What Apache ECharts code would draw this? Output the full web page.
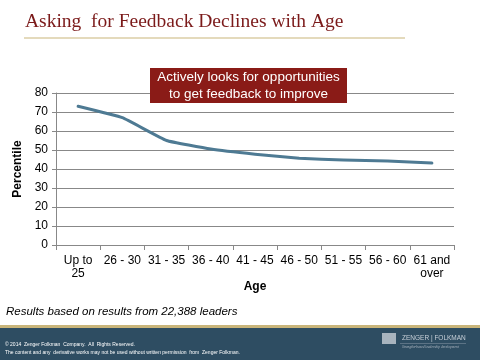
<!DOCTYPE html>
<html><head><meta charset="utf-8">
<script src="https://cdn.jsdelivr.net/npm/echarts@6/dist/echarts.min.js"></script>
<style>html,body{margin:0;padding:0;background:#fff}#c{width:480px;height:360px}</style>
</head><body><div id="c"></div>
<script>
var categories = ['Up to\n25', '26 - 30', '31 - 35', '36 - 40', '41 - 45', '46 - 50', '51 - 55', '56 - 60', '61 and\nover'];
var percentile = [73, 67, 55, 50.5, 47.8, 45.7, 44.7, 44.2, 43.1];
var yTicks = [0, 10, 20, 30, 40, 50, 60, 70, 80];

var chart = echarts.init(document.getElementById('c'), null, {renderer: 'canvas'});
chart.setOption({
  animation: false,
  backgroundColor: '#fff',
  grid: {left: 56, right: 26, top: 93, bottom: 115},
  xAxis: {
    type: 'category', data: categories, boundaryGap: true,
    name: 'Age', nameLocation: 'middle', nameGap: 27,
    nameTextStyle: {fontFamily: 'Liberation Sans', fontWeight: 'bold', fontSize: 12, color: '#000'},
    axisLine: {lineStyle: {color: '#888', width: 1}},
    axisTick: {show: true, length: 5, alignWithLabel: false, lineStyle: {color: '#888'}},
    axisLabel: {interval: 0, fontFamily: 'Liberation Sans', fontSize: 12, color: '#000', lineHeight: 13, margin: 9}
  },
  yAxis: {
    type: 'value', min: yTicks[0], max: yTicks[yTicks.length - 1], interval: 10,
    name: 'Percentile', nameLocation: 'middle', nameGap: 31, nameRotate: 90,
    nameTextStyle: {fontFamily: 'Liberation Sans', fontWeight: 'bold', fontSize: 12, color: '#000'},
    axisLine: {show: true, lineStyle: {color: '#888', width: 1}},
    axisTick: {show: true, length: 4, lineStyle: {color: '#888'}},
    splitLine: {lineStyle: {color: '#888', width: 1}},
    axisLabel: {fontFamily: 'Liberation Sans', fontSize: 12, color: '#000', margin: 8}
  },
  series: [{
    type: 'line', data: percentile, smooth: 0.1, symbol: 'none',
    lineStyle: {color: '#4E7A93', width: 3, join: 'round', cap: 'round'}
  }],
  graphic: [
    {type: 'text', z: 100, left: 25, top: 12, style: {text: 'Asking  for Feedback Declines with Age', font: '19.5px "Liberation Serif"', fill: '#7B1A1A'}},
    {type: 'rect', z: 100, shape: {x: 24, y: 37.5, width: 381, height: 1}, style: {fill: '#C9B57A'}},
    {type: 'rect', z: 100, shape: {x: 150, y: 68, width: 197, height: 35}, style: {fill: '#8A1B17'}},
    {type: 'text', z: 101, x: 248.5, y: 85.5, style: {text: 'Actively looks for opportunities\nto get feedback to improve', font: '13.5px "Liberation Sans"', fill: '#fff', align: 'center', verticalAlign: 'middle', lineHeight: 17}},
    {type: 'text', z: 100, left: 6, top: 306, style: {text: 'Results based on results from 22,388 leaders', font: 'italic 11.5px "Liberation Sans"', fill: '#000'}},
    {type: 'rect', z: 100, shape: {x: 0, y: 325, width: 480, height: 3}, style: {fill: '#C9B57A'}},
    {type: 'rect', z: 100, shape: {x: 0, y: 328, width: 480, height: 32}, style: {fill: '#2E4D62'}},
    {type: 'text', z: 101, left: 5, top: 342, style: {text: '© 2014  Zenger Folkman  Company.  All  Rights Reserved.', font: '5px "Liberation Sans"', fill: '#fff'}},
    {type: 'text', z: 101, left: 5, top: 350, style: {text: 'The content and any  derivative works may not be used without written permission  from  Zenger Folkman.', font: '5px "Liberation Sans"', fill: '#fff'}},
    {type: 'rect', z: 101, shape: {x: 382, y: 333, width: 14, height: 11}, style: {fill: '#A8B4BE'}},
    {type: 'text', z: 101, left: 402, top: 335, style: {text: 'ZENGER | FOLKMAN', font: '6.5px "Liberation Sans"', fill: '#C8D0D8'}},
    {type: 'rect', z: 101, shape: {x: 400, y: 343, width: 66, height: 0.6}, style: {fill: '#8A9AA8'}},
    {type: 'text', z: 101, left: 402, top: 345, style: {text: 'Strengths-based leadership development', font: 'italic 3.5px "Liberation Serif"', fill: '#AEB8C2'}}
  ]
});
</script>
</body></html>
